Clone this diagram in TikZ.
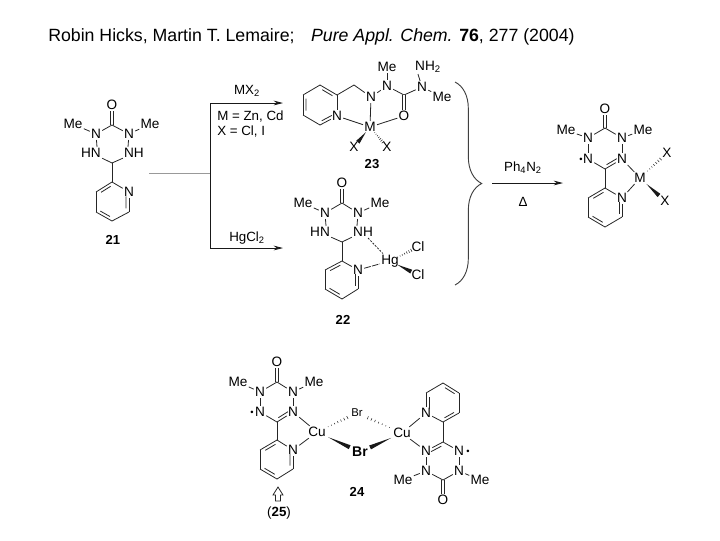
\documentclass[tikz,border=0pt]{standalone}
\usepackage{fontspec}
\setmainfont{Liberation Sans}
\usetikzlibrary{arrows.meta,calc,decorations.pathreplacing}

\tikzset{
  atom/.style={inner sep=0.8pt, font=\fontsize{10.2}{12}\selectfont},
  small atom/.style={inner sep=0.8pt, font=\fontsize{8.5}{10}\selectfont},
  big atom/.style={inner sep=0.8pt, font=\fontsize{10.5}{13}\selectfont\bfseries},
  numero/.style={inner sep=0.8pt, font=\fontsize{9.8}{12}\selectfont\bfseries},
  legende/.style={inner sep=0pt, font=\fontsize{10}{12}\selectfont},
  radical/.style={inner sep=0pt, font=\fontsize{7}{8}\selectfont},
  bond/.style={line width=0.6pt, black!85},
  dbl/.style={line width=0.5pt, black!85, double, double distance=1.5pt},
  fleche/.style={line width=0.6pt, black!90, -{Stealth[length=7pt,width=3.5pt]}},
}

% double liaison dans un cycle, parcouru dans le sens horaire
\newcommand{\ringdbl}[2]{\draw[bond] ($(#1)!.22!(#2)!2.2pt!-90:(#2)$) -- ($(#1)!.82!(#2)!2.2pt!-90:(#2)$);}
\newcommand{\wedgebond}[2]{\fill[black!90] ($(#1)!.26!(#2)$) -- ($(#1)!.76!(#2)!1.6pt!90:(#2)$) -- ($(#1)!.76!(#2)!1.6pt!-90:(#2)$) -- cycle;}
\newcommand{\hashbond}[2]{\foreach \t/\w in {.28/.25,.36/.4,.44/.55,.52/.7,.6/.85,.68/1,.76/1.2} {
    \draw[line width=0.4pt, black!85] ($(#1)!\t!(#2)!\w pt!90:(#2)$) -- ($(#1)!\t!(#2)!\w pt!-90:(#2)$);
  }}

\begin{document}
\begin{tikzpicture}[x=0.75pt, y=-0.75pt]
  \useasboundingbox (0,0) rectangle (720,540);

  % Le titre
  \node[anchor=base west, inner sep=0pt, font=\fontsize{13.3}{15}\selectfont] (titre) at (48,41)
    {Robin Hicks, Martin T. Lemaire;\hspace{0.65em} \textit{Pure Appl. Chem.} \textbf{76}, 277 (2004)};

  % Le compose 21
  \foreach \n/\x/\y/\t in {aO/112/105/O, aN1/96/134/N, aN2/129/134/N, aMe1/73/124/Me, aMe2/150/124/Me,
      aHN/91/153/HN, aNH/134/153/NH, aN/129/192/N} {
    \node[atom] (\n) at (\x,\y) {\t};
  }
  \foreach \n/\x/\y in {aC/112/125, aCH/112/163, aP1/112/182, aP3/129/212, aP4/112/221, aP5/96/212, aP6/96/192} {
    \coordinate (\n) at (\x,\y);
  }
  \draw[dbl] (aC) -- (aO);
  \foreach \a/\b in {aC/aN1, aC/aN2, aN1/aMe1, aN2/aMe2, aCH/aP1, aP1/aN, aN/aP3, aP3/aP4, aP4/aP5, aP5/aP6, aP6/aP1} {
    \draw[bond] (\a) -- (\b);
  }
  \draw[bond] (aN1) -- (aHN.45);
  \draw[bond] (aN2) -- (aNH.135);
  \draw[bond] (aCH) -- (aHN.-25);
  \draw[bond] (aCH) -- (aNH.-155);
  \ringdbl{aP6}{aP1} \ringdbl{aN}{aP3} \ringdbl{aP4}{aP5}
  \node[numero] (n21) at (113,240) {21};

  % Les fleches de gauche
  \coordinate (depart) at (149,173);
  \coordinate (fourche) at (210,173);
  \coordinate (vers23) at (283,103);
  \coordinate (vers22) at (283,248);
  \draw[line width=0.6pt, black!40] (depart) -- (fourche);
  \draw[fleche] (fourche) |- (vers23);
  \draw[fleche] (fourche) |- (vers22);
  \node[legende] (mx) at (247,91) {MX\textsubscript{2}};
  \node[legende, anchor=west] (mzn) at (217,117) {M = Zn, Cd};
  \node[legende, anchor=west] (xcl) at (217,132) {X = Cl, I};
  \node[legende] (hgcl) at (247,238) {HgCl\textsubscript{2}};

  % Le compose 23
  \foreach \n/\x/\y/\t in {bN/337/116/N, bN1/371/97/N, bN2/387/86/N, bN3/422/87/N, bO/404/116/O, bMe1/387/67/Me,
      bMe2/442/97/Me, bNH/428/67/NH\textsubscript{2}, bM/370/127/M, bX1/354/147/X, bX2/387/147/X} {
    \node[atom] (\n) at (\x,\y) {\t};
  }
  \foreach \n/\x/\y in {bP2/337/95, bP3/320/85, bP4/303/95, bP5/303/115, bP6/320/125, bCH/354/85, bC/404/95} {
    \coordinate (\n) at (\x,\y);
  }
  \foreach \a/\b in {bN/bP2, bP2/bP3, bP3/bP4, bP4/bP5, bP5/bP6, bP6/bN, bP2/bCH, bCH/bN1, bN1/bN2, bN2/bC, bC/bN3,
      bN2/bMe1, bN3/bMe2, bN/bM, bN1/bM, bO/bM} {
    \draw[bond] (\a) -- (\b);
  }
  \draw[dbl] (bC) -- (bO);
  \draw[bond] (bN3) -- (bNH.215);
  \ringdbl{bP3}{bP2} \ringdbl{bP5}{bP4} \ringdbl{bN}{bP6}
  \wedgebond{bM}{bX1}
  \hashbond{bM}{bX2}
  \node[numero] (n23) at (372,164) {23};

  % Le compose 22
  \foreach \n/\x/\y/\t in {cO/342/183/O, cN1/325/213/N, cN2/358/213/N, cMe1/303/203/Me, cMe2/380/203/Me,
      cHN/320/232/HN, cNH/363/232/NH, cN/358/270/N, cHg/390/261/Hg, cCl1/418/247/Cl, cCl2/418/275/Cl} {
    \node[atom] (\n) at (\x,\y) {\t};
  }
  \foreach \n/\x/\y in {cC/342/203, cCH/342/242, cP1/342/261, cP3/358/289, cP4/342/299, cP5/325/289, cP6/325/270} {
    \coordinate (\n) at (\x,\y);
  }
  \draw[dbl] (cC) -- (cO);
  \foreach \a/\b in {cC/cN1, cC/cN2, cN1/cMe1, cN2/cMe2, cCH/cP1, cP1/cN, cN/cP3, cP3/cP4, cP4/cP5, cP5/cP6, cP6/cP1} {
    \draw[bond] (\a) -- (\b);
  }
  \draw[bond] (cN1) -- (cHN.45);
  \draw[bond] (cN2) -- (cNH.135);
  \draw[bond] (cCH) -- (cHN.-25);
  \draw[bond] (cCH) -- (cNH.-155);
  \draw[bond, dash pattern=on 1.5pt off 1pt] (cNH.-50) -- (cHg);
  \draw[bond, dash pattern=on 5pt off 1pt] (cN) -- (cHg);
  \ringdbl{cP6}{cP1} \ringdbl{cN}{cP3} \ringdbl{cP4}{cP5}
  \hashbond{cHg}{cCl1}
  \wedgebond{cHg}{cCl2}
  \node[numero] (n22) at (343,320) {22};

  % L'accolade et la fleche de droite
  \coordinate (hautAcc) at (455,82);
  \coordinate (basAcc) at (455,285);
  \draw[line width=0.7pt, black!75, decorate, decoration={brace, amplitude=20pt}] (hautAcc) -- (basAcc);
  \coordinate (sortie) at (492,183);
  \coordinate (arrivee) at (563,183);
  \draw[fleche] (sortie) -- (arrivee);
  \node[legende] (ph) at (523,168) {Ph\textsubscript{4}N\textsubscript{2}};
  \node[legende] (delta) at (523,202) {Δ};

  % Le produit
  \foreach \n/\x/\y/\t in {dO/605/109/O, dN1/588/138/N, dN2/622/138/N, dMe1/566/130/Me, dMe2/643/130/Me, dN3/588/159/N,
      dN4/622/159/N, dN/622/198/N, dM/640/178/M, dX1/667/153/X, dX2/665/201/X} {
    \node[atom] (\n) at (\x,\y) {\t};
  }
  \foreach \n/\x/\y in {dC/605/128, dC2/605/169, dP1/605/188, dP3/622/217, dP4/605/227, dP5/588/217, dP6/588/198} {
    \coordinate (\n) at (\x,\y);
  }
  \draw[dbl] (dC) -- (dO);
  \foreach \a/\b in {dC/dN1, dC/dN2, dN1/dMe1, dN2/dMe2, dN1/dN3, dN2/dN4, dN3/dC2, dC2/dN4, dC2/dP1, dP1/dN, dN/dP3,
      dP3/dP4, dP4/dP5, dP5/dP6, dP6/dP1, dN4/dM, dN/dM} {
    \draw[bond] (\a) -- (\b);
  }
  \ringdbl{dN4}{dC2} \ringdbl{dP6}{dP1} \ringdbl{dN}{dP3} \ringdbl{dP4}{dP5}
  \hashbond{dM}{dX1}
  \wedgebond{dM}{dX2}
  \node[radical] (dDot) at (581,160) {•};

  % Le dimere 24, a gauche
  \foreach \n/\x/\y/\t in {eO/277/362/O, eN1/260/392/N, eN2/293/392/N, eMe1/238/382/Me, eMe2/314/382/Me, eN3/260/412/N,
      eN4/293/412/N, eN/293/450/N, eCu/317/432/Cu} {
    \node[atom] (\n) at (\x,\y) {\t};
  }
  \foreach \n/\x/\y in {eC/277/382, eC2/277/422, eP1/277/440, eP3/293/469, eP4/277/479, eP5/260/469, eP6/260/450} {
    \coordinate (\n) at (\x,\y);
  }
  \draw[dbl] (eC) -- (eO);
  \foreach \a/\b in {eC/eN1, eC/eN2, eN1/eMe1, eN2/eMe2, eN1/eN3, eN2/eN4, eN3/eC2, eC2/eN4, eC2/eP1, eP1/eN, eN/eP3,
      eP3/eP4, eP4/eP5, eP5/eP6, eP6/eP1, eN4/eCu, eN/eCu} {
    \draw[bond] (\a) -- (\b);
  }
  \ringdbl{eN4}{eC2} \ringdbl{eP6}{eP1} \ringdbl{eN}{eP3} \ringdbl{eP4}{eP5}
  \node[radical] (eDot) at (252,413) {•};

  % Les ponts Br
  \node[small atom] (brH) at (357,413) {Br};
  \node[big atom] (brB) at (360,452) {Br};

  % Le dimere 24, a droite
  \foreach \n/\x/\y/\t in {fO/443/500/O, fN1/426/471/N, fN2/459/471/N, fMe1/403/480/Me, fMe2/480/480/Me, fN3/426/451/N,
      fN4/459/451/N, fN/426/413/N, fCu/402/433/Cu} {
    \node[atom] (\n) at (\x,\y) {\t};
  }
  \foreach \n/\x/\y in {fC/443/480, fC2/443/442, fP1/443/422, fP3/426/393, fP4/443/383, fP5/459/393, fP6/459/413} {
    \coordinate (\n) at (\x,\y);
  }
  \draw[dbl] (fC) -- (fO);
  \foreach \a/\b in {fC/fN1, fC/fN2, fN1/fMe1, fN2/fMe2, fN1/fN3, fN2/fN4, fN3/fC2, fC2/fN4, fC2/fP1, fP1/fN, fN/fP3,
      fP3/fP4, fP4/fP5, fP5/fP6, fP6/fP1, fN3/fCu, fN/fCu} {
    \draw[bond] (\a) -- (\b);
  }
  \ringdbl{fN3}{fC2} \ringdbl{fN}{fP3} \ringdbl{fP4}{fP5} \ringdbl{fP6}{fP1}
  \node[radical] (fDot) at (468,452) {•};

  % Les liaisons vers les Br
  \hashbond{eCu}{brH}
  \hashbond{fCu}{brH}
  \wedgebond{eCu}{brB}
  \wedgebond{fCu}{brB}

  \node[numero] (n24) at (357,492) {24};
  % La fleche creuse vers 25
  \draw[bond] (278,487) -- (283,495) -- (280.5,495) -- (280.5,501) -- (275.5,501) -- (275.5,495) -- (273,495) -- cycle;
  \node[legende] (n25) at (279,513) {(\textbf{25})};
\end{tikzpicture}
\end{document}
